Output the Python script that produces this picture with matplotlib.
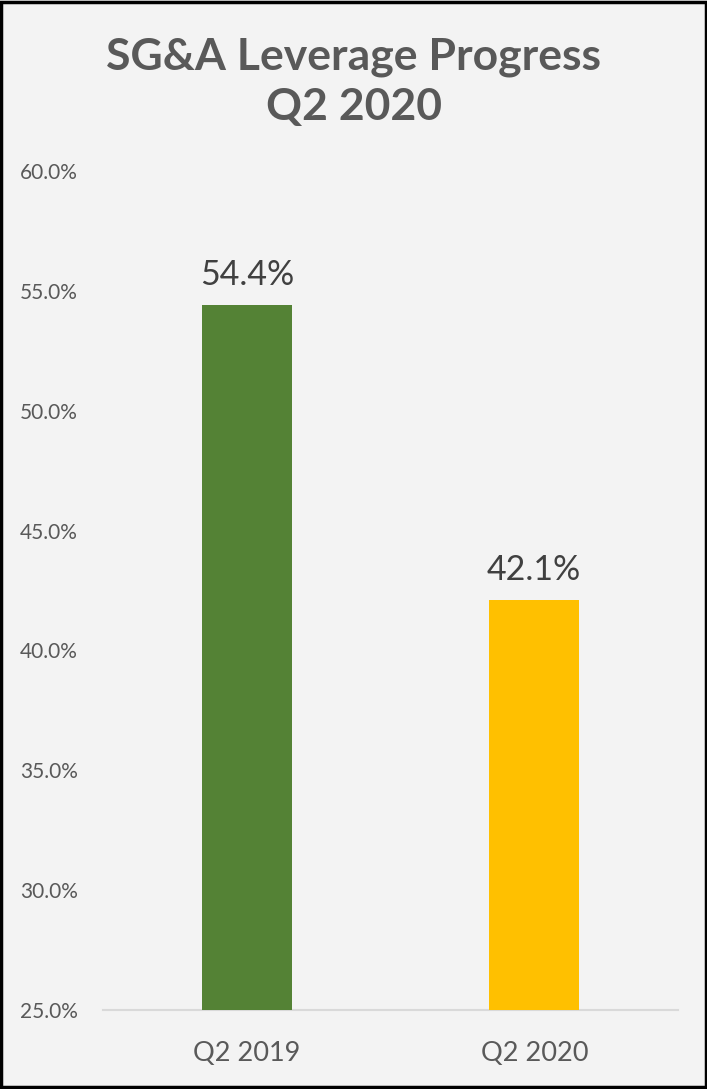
import matplotlib
matplotlib.use("Agg")
import matplotlib.pyplot as plt
from matplotlib.patches import Rectangle
from matplotlib.ticker import FuncFormatter, MultipleLocator

categories = ["Q2 2019", "Q2 2020"]
values = [54.4, 42.1]
bar_colors = ["#548235", "#FFC000"]
title = "SG&A Leverage Progress\nQ2 2020"

plt.rcParams["font.family"] = ["Lato", "DejaVu Sans"]

fig = plt.figure(figsize=(7.07, 10.89), dpi=100)
fig.patch.set_facecolor("#f3f3f3")

ax = fig.add_axes([0.1457, 0.0725, 0.8133, 0.7705])
ax.set_facecolor("none")

x = list(range(len(categories)))
bars = ax.bar(x, values, width=0.312, color=bar_colors, zorder=3)

for bar, v in zip(bars, values):
    ax.annotate(f"{v:.1f}%", xy=(bar.get_x() + bar.get_width() / 2, v),
                xytext=(0, 10), textcoords="offset points",
                ha="center", va="bottom", fontsize=24.5, color="#404040")

ax.set_xlim(-0.5, 1.5)
ax.set_ylim(25, 60)
ax.yaxis.set_major_locator(MultipleLocator(5))
ax.yaxis.set_major_formatter(FuncFormatter(lambda v, p: f"{v:.1f}%"))
ax.set_xticks(x)
ax.set_xticklabels(categories)

for s in ["top", "right", "left"]:
    ax.spines[s].set_visible(False)
ax.spines["bottom"].set_color("#d9d9d9")
ax.spines["bottom"].set_linewidth(1.5)

ax.tick_params(axis="y", length=0, pad=18, labelsize=15, labelcolor="#595959")
ax.tick_params(axis="x", length=0, pad=22, labelsize=19.5, labelcolor="#595959")

fig.text(0.5, 0.9245, title, ha="center", va="center", fontsize=32,
         fontweight="bold", color="#595959", linespacing=1.3)

fig.patches.append(Rectangle((0.002, 0.002), 0.996, 0.996, transform=fig.transFigure,
                             fill=False, edgecolor="black", linewidth=2.5))

fig.savefig("out.png", dpi=100, facecolor=fig.get_facecolor())
